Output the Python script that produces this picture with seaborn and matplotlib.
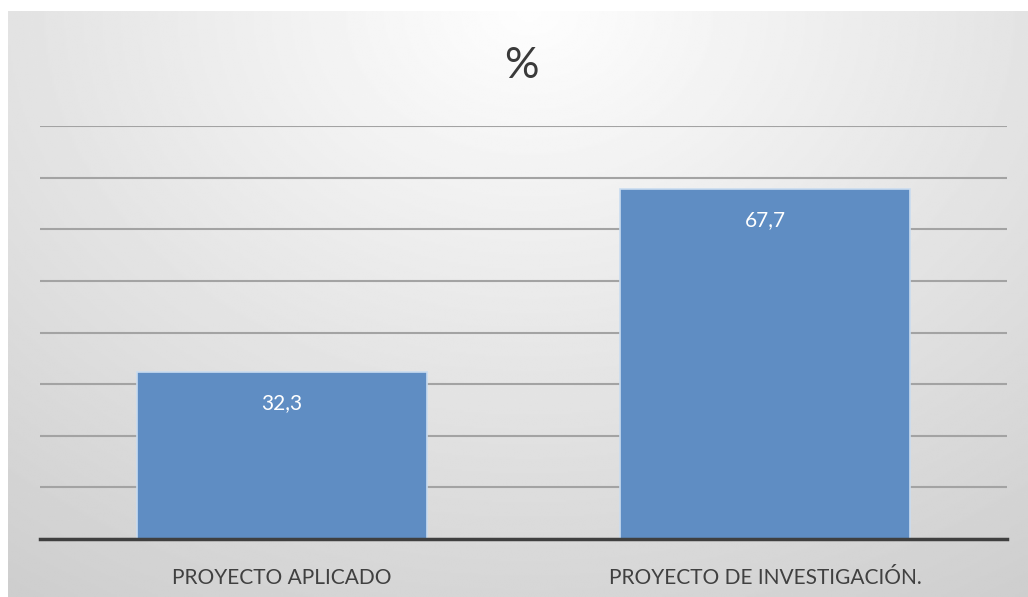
import numpy as np
import pandas as pd
import matplotlib
matplotlib.use("Agg")
import matplotlib.pyplot as plt
import seaborn as sns

# data
categories = ["PROYECTO APLICADO", "PROYECTO DE INVESTIGACIÓN."]
values = [32.3, 67.7]
value_labels = ["32,3", "67,7"]

df = pd.DataFrame({"categoria": categories, "pct": values})

sns.set_theme(style="white")
plt.rcParams["font.family"] = ["Lato", "DejaVu Sans"]

fig = plt.figure(figsize=(10.28, 5.97), dpi=100)
fig.patch.set_facecolor("white")

# radial grey background of the chart area
bg = fig.add_axes([8 / 1028, 0, 1 - 8 / 1028, 586 / 597])
yy, xx = np.mgrid[0:300, 0:500]
cx, cy = 255, 0
d = np.sqrt(((xx - cx) / 520.0) ** 2 + ((yy - cy) / 420.0) ** 2)
shade = np.clip(0.995 - 0.22 * d, 0.79, 1.0)
bg.imshow(shade, cmap="gray", vmin=0, vmax=1, aspect="auto",
          extent=[0, 1, 0, 1], origin="upper", interpolation="bilinear")
bg.set_axis_off()

ax = fig.add_axes([40 / 1028, 1 - 539 / 597, 967 / 1028, (539 - 126) / 597])
ax.patch.set_alpha(0)
sns.barplot(data=df, x="categoria", y="pct", color="#5f8dc3", width=0.6,
            edgecolor="#c9dcf0", linewidth=1.2, saturation=1, ax=ax, zorder=3)
ax.set_ylim(0, 80)
ax.set_xlim(-0.5, 1.5)
ax.set_yticks(np.arange(0, 81, 10))
ax.yaxis.grid(True, color="#a3a3a3", linewidth=1.5, zorder=0)
ax.set_axisbelow(True)
ax.set_yticklabels([])
ax.tick_params(axis="y", length=0)
ax.tick_params(axis="x", length=0, pad=21, labelsize=15, labelcolor="#404040")
ax.set_xlabel("")
ax.set_ylabel("")
for s in ["top", "right", "left"]:
    ax.spines[s].set_visible(False)
ax.spines["bottom"].set_color("#3f3f3f")
ax.spines["bottom"].set_linewidth(2.5)
ax.spines["bottom"].set_zorder(5)

for i, (v, lab) in enumerate(zip(values, value_labels)):
    ax.annotate(lab, (i, v), xytext=(0, -22), textcoords="offset points",
                ha="center", va="center", color="white", fontsize=15, zorder=6)

fig.text(521 / 1028, 1 - 66 / 597, "%", ha="center", va="center",
         fontsize=31, color="#3a3a3a")

fig.savefig("out.png", dpi=100)
